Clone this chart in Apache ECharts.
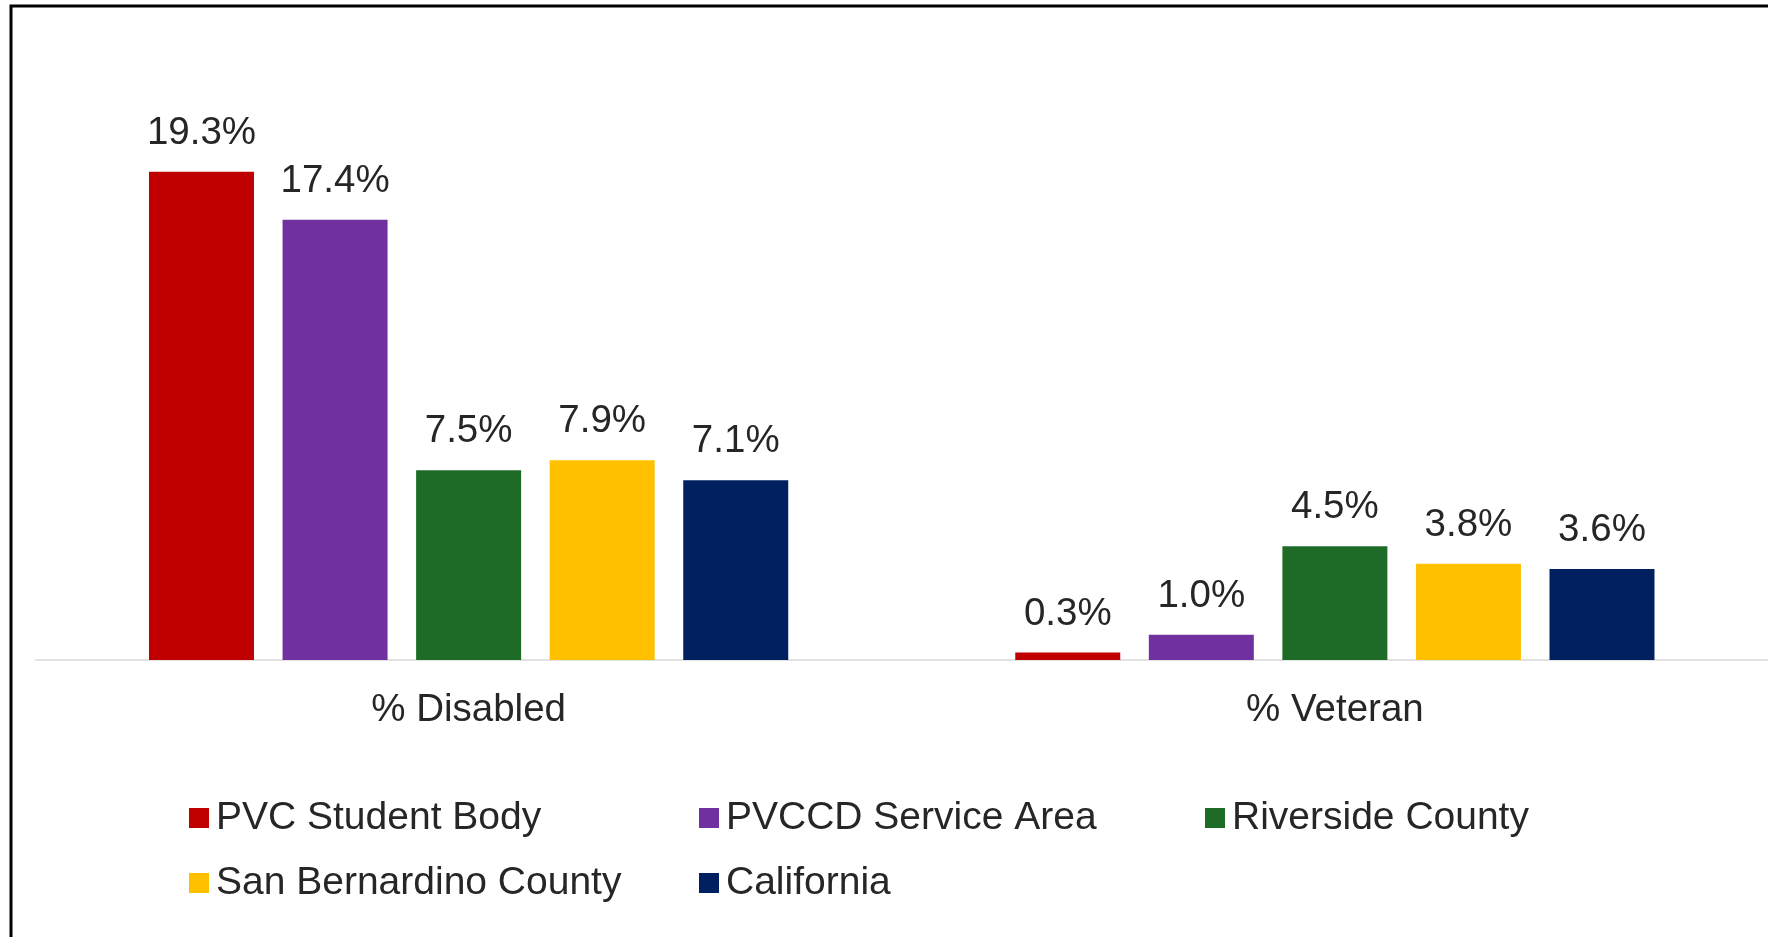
<!DOCTYPE html>
<html>
<head>
<meta charset="utf-8">
<script src="https://cdn.jsdelivr.net/npm/echarts@6/dist/echarts.min.js"></script>
<style>
html,body{margin:0;padding:0;background:#fff;}
#chart{width:1768px;height:937px;}
</style>
</head>
<body>
<div id="chart"></div>
<script>
var categories = ['% Disabled', '% Veteran'];
var seriesNames = ['PVC Student Body', 'PVCCD Service Area', 'Riverside County', 'San Bernardino County', 'California'];
var pvcStudentBody = [19.3, 0.3];
var pvccdServiceArea = [17.4, 1.0];
var riversideCounty = [7.5, 4.5];
var sanBernardinoCounty = [7.9, 3.8];
var california = [7.1, 3.6];
var colors = ['#C00000', '#7030A0', '#1D6B27', '#FFC000', '#002060'];

var allValues = [pvcStudentBody, pvccdServiceArea, riversideCounty, sanBernardinoCounty, california];
var FONT = "'Liberation Sans', Arial, sans-serif";
var TXT = '#262626';

var chart = echarts.init(document.getElementById('chart'), null, {renderer: 'canvas'});

var series = seriesNames.map(function (name, i) {
  return {
    name: name,
    type: 'bar',
    data: allValues[i],
    barWidth: 105,
    barGap: '27.2%',
    itemStyle: {color: colors[i]},
    label: {
      show: true,
      position: 'top',
      distance: 19,
      fontSize: 38.5,
      fontFamily: FONT,
      color: TXT,
      formatter: function (p) { return p.value.toFixed(1) + '%'; }
    }
  };
});

var legendPos = [
  {left: 189, top: 798.5},
  {left: 699, top: 798.5},
  {left: 1205, top: 798.5},
  {left: 189, top: 863.5},
  {left: 699, top: 863.5}
];
var legends = seriesNames.map(function (name, i) {
  return {
    data: [name],
    left: legendPos[i].left,
    top: legendPos[i].top,
    padding: 0,
    itemGap: 0,
    icon: 'rect',
    itemWidth: 20,
    itemHeight: 20,
    selectedMode: false,
    textStyle: {fontSize: 39, fontFamily: FONT, color: TXT, padding: [0, 0, 0, 2]}
  };
});

chart.setOption({
  animation: false,
  backgroundColor: '#fff',
  grid: {left: 35.5, top: 154, width: 1750, height: 506, containLabel: false},
  xAxis: {
    type: 'category',
    data: categories,
    axisLine: {show: true, lineStyle: {color: '#D9D9D9', width: 1.5}},
    axisTick: {show: false},
    axisLabel: {fontSize: 38.5, fontFamily: FONT, color: TXT, margin: 31}
  },
  yAxis: {
    type: 'value',
    min: 0,
    max: 20,
    show: false,
    splitLine: {show: false}
  },
  legend: legends,
  graphic: [{
    type: 'rect',
    left: 8.5,
    top: 3.5,
    shape: {x: 0, y: 0, width: 1900, height: 1100},
    style: {fill: 'none', stroke: '#000', lineWidth: 3},
    silent: true
  }],
  series: series
});
</script>
</body>
</html>
